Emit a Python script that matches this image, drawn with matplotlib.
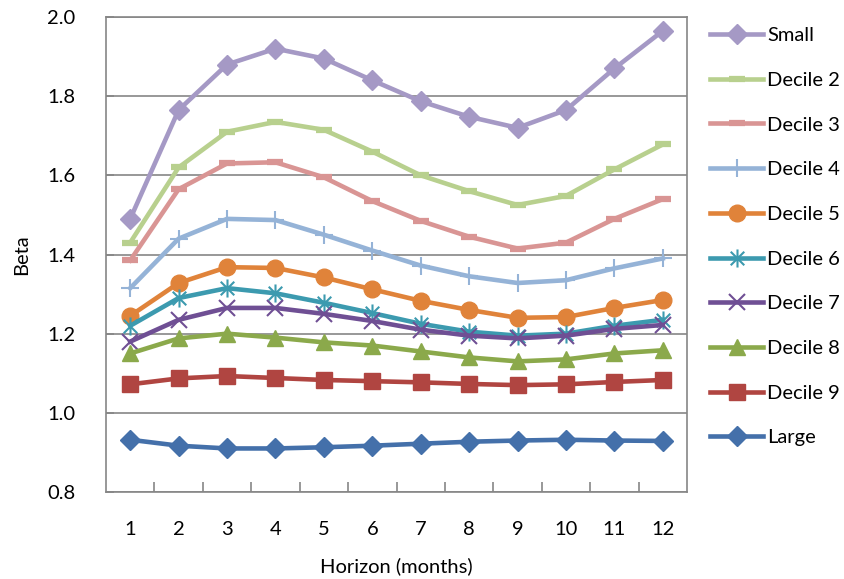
import matplotlib
matplotlib.use("Agg")
import matplotlib.pyplot as plt
from matplotlib.path import Path

plt.rcParams['font.family'] = ['Lato', 'DejaVu Sans']

horizon = list(range(1, 13))

small = [1.49, 1.765, 1.88, 1.92, 1.895, 1.84, 1.787, 1.748, 1.72, 1.765, 1.87, 1.965]
decile2 = [1.43, 1.62, 1.71, 1.735, 1.715, 1.66, 1.60, 1.56, 1.525, 1.548, 1.615, 1.678]
decile3 = [1.385, 1.565, 1.63, 1.633, 1.595, 1.535, 1.485, 1.445, 1.415, 1.43, 1.49, 1.54]
decile4 = [1.315, 1.44, 1.49, 1.487, 1.45, 1.41, 1.372, 1.345, 1.328, 1.335, 1.365, 1.39]
decile5 = [1.245, 1.328, 1.368, 1.366, 1.342, 1.312, 1.283, 1.26, 1.24, 1.242, 1.265, 1.285]
decile6 = [1.22, 1.29, 1.315, 1.302, 1.278, 1.252, 1.225, 1.205, 1.195, 1.20, 1.22, 1.235]
decile7 = [1.18, 1.235, 1.265, 1.265, 1.25, 1.232, 1.21, 1.195, 1.188, 1.195, 1.212, 1.222]
decile8 = [1.15, 1.188, 1.20, 1.19, 1.178, 1.17, 1.155, 1.14, 1.13, 1.135, 1.15, 1.158]
decile9 = [1.072, 1.087, 1.093, 1.088, 1.083, 1.08, 1.077, 1.073, 1.07, 1.072, 1.078, 1.083]
large = [0.932, 0.917, 0.91, 0.91, 0.913, 0.917, 0.922, 0.927, 0.93, 0.932, 0.93, 0.929]

labels = ['Small', 'Decile 2', 'Decile 3', 'Decile 4', 'Decile 5',
          'Decile 6', 'Decile 7', 'Decile 8', 'Decile 9', 'Large']
series = [small, decile2, decile3, decile4, decile5,
          decile6, decile7, decile8, decile9, large]

# excel style "star": vertical bar plus an x
star = Path([(0, -1), (0, 1), (-0.75, -0.75), (0.75, 0.75), (-0.75, 0.75), (0.75, -0.75)],
            [Path.MOVETO, Path.LINETO, Path.MOVETO, Path.LINETO, Path.MOVETO, Path.LINETO])

styles = [
    dict(color='#A599C5', marker='D', ms=10.5),
    dict(color='#B8D08E', marker='_', ms=11, mew=4.5),
    dict(color='#D99594', marker='_', ms=11, mew=4.5),
    dict(color='#95B3D7', marker='+', ms=13, mew=1.5),
    dict(color='#E0833A', marker='o', ms=12),
    dict(color='#3C9AAF', marker=star, ms=13, mew=1.5),
    dict(color='#6F4F94', marker='x', ms=11, mew=1.5),
    dict(color='#8BA94B', marker='^', ms=12),
    dict(color='#B04541', marker='s', ms=11),
    dict(color='#4470AA', marker='D', ms=10.5),
]

fs = 14.5
fig = plt.figure(figsize=(8.44, 5.79), dpi=100)
ax = fig.add_axes([106 / 844, 1 - 492 / 579, 581 / 844, 475 / 579])

for vals, lab, st in zip(series, labels, styles):
    ax.plot(horizon, vals, lw=3.3, label=lab, mec=st['color'], mfc=st['color'],
            solid_joinstyle='round', **st)

grid_c = '#868686'
ax.set_xlim(0.5, 12.5)
ax.set_ylim(0.8, 2.0)
ax.set_yticks([0.8, 1.0, 1.2, 1.4, 1.6, 1.8, 2.0])
ax.set_yticklabels(['%.1f' % v for v in [0.8, 1.0, 1.2, 1.4, 1.6, 1.8, 2.0]])
ax.yaxis.grid(True, color=grid_c, lw=1.2)
ax.set_axisbelow(True)

ax.set_xticks(horizon)
ax.set_xticks([i + 0.5 for i in range(1, 12)], minor=True)
ax.tick_params(axis='x', which='major', length=0, labelsize=fs, pad=21, colors='black')
ax.tick_params(axis='x', which='minor', direction='in', length=7, color=grid_c, width=1.2)
ax.tick_params(axis='y', direction='in', length=6, color=grid_c, width=1.2, labelsize=fs, pad=22)

for sp in ax.spines.values():
    sp.set_color(grid_c)
    sp.set_linewidth(1.2)

ax.set_xlabel('Horizon (months)', fontsize=fs, labelpad=14)
ax.set_ylabel('Beta', fontsize=fs, labelpad=12)

ax.legend(loc='upper left', bbox_to_anchor=(702 / 844, 1 - 19 / 579),
          bbox_transform=fig.transFigure, frameon=False, fontsize=fs,
          handlelength=2.65, handletextpad=0.18, labelspacing=1.37, borderaxespad=0)

fig.savefig('out.png', dpi=100)
